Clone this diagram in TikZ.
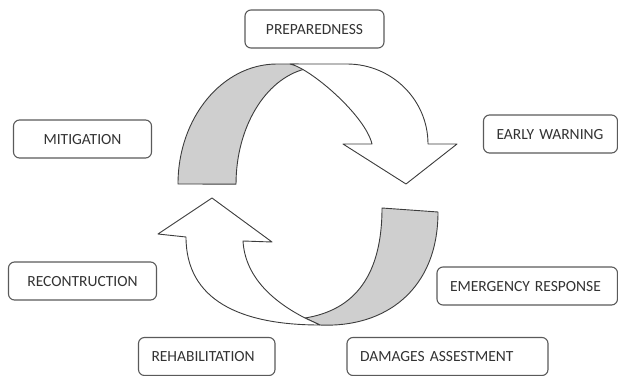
\documentclass[tikz,border=0pt]{standalone}
\usepackage{fontspec}
\setmainfont{Carlito}
\definecolor{bandgray}{HTML}{CFCFCF}
\definecolor{linec}{HTML}{3C3C3C}
\definecolor{boxc}{HTML}{5A5A5A}
\definecolor{txtc}{HTML}{333333}
\tikzset{
  ribbon/.style={draw=linec, line width=0.9pt, line join=round},
  back/.style={ribbon, fill=bandgray},
  front/.style={ribbon, fill=white},
  phase/.style={draw=boxc, line width=1.1pt, rounded corners=6pt, fill=white,
    minimum height=38pt, inner xsep=13pt, inner ysep=0pt,
    text height=10pt, text depth=0pt, text=txtc,
    font=\fontsize{15.5}{18}\selectfont}
}
\begin{document}
\begin{tikzpicture}[x=1pt,y=1pt]
\useasboundingbox (0,0) rectangle (618,-375);
\clip (0,0) rectangle (618,-375);
% boxes
\node[phase, text width=113pt, align=center] (prep) at (314.5,-29) {PREPAREDNESS};
\node[phase, text width=112pt, align=center] (mit) at (82.5,-139) {MITIGATION};
\node[phase, text width=108pt, align=left] (ew) at (550.5,-134) {EARLY WARNING};
\node[phase, text width=122pt, align=center] (recon) at (82.5,-281) {RECONTRUCTION};
\node[phase, text width=154.5pt, align=left] (emer) at (527.25,-286) {EMERGENCY RESPONSE};
\node[phase, text width=110.5pt, align=left] (rehab) at (206.75,-356.5) {REHABILITATION};
\node[phase, text width=175pt, align=left] (dam) at (447.5,-356.5) {DAMAGES ASSESTMENT};
% upper ribbon arrow
\path[back] (178,-184) arc[start angle=180, end angle=90, x radius=99, y radius=120]
  -- (298,-64) -- (305,-69)
  arc[start angle=100.3, end angle=180, x radius=84, y radius=117] -- cycle;
\path[front] (290,-64) -- (347,-64) arc[start angle=90, end angle=0, x radius=81, y radius=80]
  -- (457,-144) -- (406,-184) -- (343,-144) -- (372,-144)
  .. controls (365,-115) and (310,-68) .. (290,-64) -- cycle;
% lower ribbon arrow
\path[back] (382,-208) -- (438,-212) .. controls (438,-290) and (385,-328) .. (320,-325)
  -- (305,-318) .. controls (355,-310) and (382,-275) .. (382,-208) -- cycle;
\path[front] (320,-325) .. controls (240,-325) and (186,-300) .. (186,-237)
  -- (158,-234) -- (212,-198) -- (272,-242) -- (243,-241)
  .. controls (245,-275) and (270,-300) .. (305,-318) -- cycle;
\end{tikzpicture}
\end{document}
